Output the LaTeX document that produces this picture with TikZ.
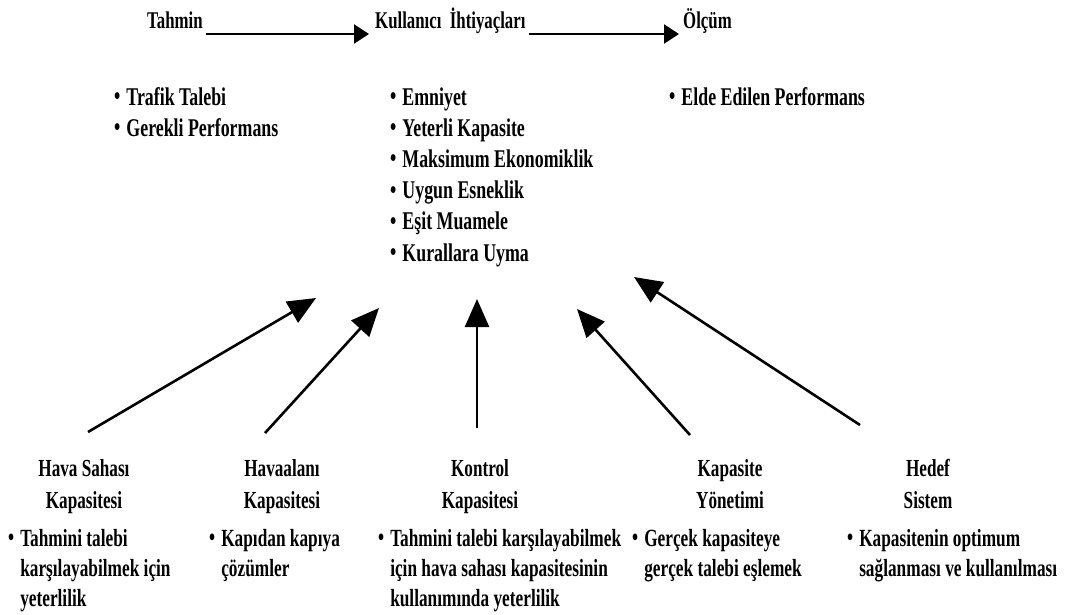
\documentclass[tikz,border=0pt]{standalone}
\usepackage{fontspec}
\setmainfont{Liberation Serif}[FakeStretch=0.7]
\usetikzlibrary{arrows.meta}

% bulleted list whose reference point is the baseline of its first row
\newcommand\blist[1]{\begin{tabular}[t]{@{}l@{\hskip 6pt}l@{}}#1\end{tabular}}
\newcommand\bul{\raisebox{0.5pt}{•}}
% centred two-line heading, reference point on the first line
\newcommand\hdr[1]{\begin{tabular}[t]{@{}c@{}}#1\end{tabular}}

\begin{document}
\begin{tikzpicture}[x=1pt,y=-1pt,
  txt/.style={font=\fontsize{24}{31}\selectfont\bfseries, inner sep=0pt},
  lst/.style={txt, font=\fontsize{25.5}{31.2}\selectfont\bfseries, anchor=base west},
  lowlst/.style={txt, font=\fontsize{24.7}{30}\selectfont\bfseries, anchor=base west},
  hd/.style={txt, font=\fontsize{24.5}{32}\selectfont\bfseries, anchor=base},
  flow/.style={line width=2.2pt, -{Triangle[length=15pt,width=19pt]}},
  feed/.style={line width=2.6pt, -{Triangle[length=28pt,width=24pt]}}]
\useasboundingbox (0,0) rectangle (1075,614);

% top row: the three stages
\node[txt, anchor=base west] (tahmin) at (147,28) {Tahmin};
\node[txt, anchor=base west] (ihtiyac) at (375,28) {Kullanıcı\ \ İhtiyaçları};
\node[txt, anchor=base west] (olcum) at (683,28) {Ölçüm};
\draw[flow] ([shift={(3,6)}]tahmin.base east) -- ([shift={(-6,6)}]ihtiyac.base west);
\draw[flow] ([shift={(3,6)}]ihtiyac.base east) -- ([shift={(-4,6)}]olcum.base west);

% lists under each stage
\node[lst] (l1) at (114,105) {\blist{\bul & Trafik Talebi\\ \bul & Gerekli Performans}};
\node[lst] (l2) at (390,105) {\blist{\bul & Emniyet\\ \bul & Yeterli Kapasite\\ \bul & Maksimum Ekonomiklik\\
  \bul & Uygun Esneklik\\ \bul & Eşit Muamele\\ \bul & Kurallara Uyma}};
\node[lst] (l3) at (669,105) {\blist{\bul & Elde Edilen Performans}};

% bottom headings
\node[hd] (hs) at (84,476) {\hdr{Hava Sahası\\Kapasitesi}};
\node[hd] (ha) at (282,476) {\hdr{Havaalanı\\Kapasitesi}};
\node[hd] (kk) at (480,476) {\hdr{Kontrol\\Kapasitesi}};
\node[hd] (ky) at (730,476) {\hdr{Kapasite\\Yönetimi}};
\node[hd] (hd) at (928,476) {\hdr{Hedef\\Sistem}};

% bottom lists
\node[lowlst] (b1) at (8,546) {\blist{\bul & Tahmini talebi\\ & karşılayabilmek için\\ & yeterlilik}};
\node[lowlst] (b2) at (209,546) {\blist{\bul & Kapıdan kapıya\\ & çözümler}};
\node[lowlst] (b3) at (378,546) {\blist{\bul & Tahmini talebi karşılayabilmek\\ & için hava sahası kapasitesinin\\ & kullanımında yeterlilik}};
\node[lowlst] (b4) at (632,546) {\blist{\bul & Gerçek kapasiteye\\ & gerçek talebi eşlemek}};
\node[lowlst] (b5) at (847,546) {\blist{\bul & Kapasitenin optimum\\ & sağlanması ve kullanılması}};

% arrows from the headings up to the user needs
\coordinate (t1) at (88,432);   \coordinate (p1) at (316,298);
\coordinate (t2) at (265,433);  \coordinate (p2) at (379,308);
\coordinate (t3) at (477,428);  \coordinate (p3) at (477,299);
\coordinate (t4) at (690,435);  \coordinate (p4) at (577,309);
\coordinate (t5) at (860,425);  \coordinate (p5) at (634,277);
\draw[feed] (t1) -- (p1);
\draw[feed] (t2) -- (p2);
\draw[feed] (t3) -- (p3);
\draw[feed] (t4) -- (p4);
\draw[feed] (t5) -- (p5);
\end{tikzpicture}
\end{document}
